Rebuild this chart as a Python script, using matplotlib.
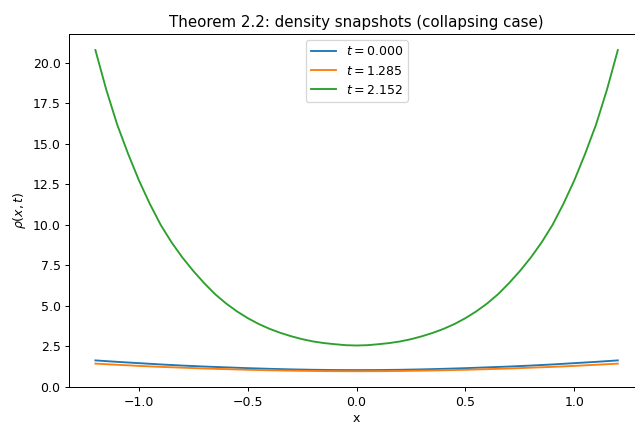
import matplotlib
matplotlib.use("Agg")
import matplotlib.pyplot as plt

# green curve (t = 2.152), sampled every 0.05
x_green = [-1.20, -1.15, -1.10, -1.05, -1.00, -0.95, -0.90, -0.85, -0.80, -0.75,
           -0.70, -0.65, -0.60, -0.55, -0.50, -0.45, -0.40, -0.35, -0.30, -0.25,
           -0.20, -0.15, -0.10, -0.05, 0.00, 0.05, 0.10, 0.15, 0.20, 0.25,
           0.30, 0.35, 0.40, 0.45, 0.50, 0.55, 0.60, 0.65, 0.70, 0.75,
           0.80, 0.85, 0.90, 0.95, 1.00, 1.05, 1.10, 1.15, 1.20]
rho_green = [20.80, 18.35, 16.20, 14.40, 12.75, 11.30, 10.00, 8.92, 7.98, 7.15,
             6.40, 5.72, 5.15, 4.66, 4.24, 3.88, 3.58, 3.33, 3.12, 2.94,
             2.80, 2.70, 2.63, 2.57, 2.55, 2.57, 2.63, 2.70, 2.80, 2.94,
             3.12, 3.33, 3.58, 3.88, 4.24, 4.66, 5.15, 5.72, 6.40, 7.15,
             7.98, 8.92, 10.00, 11.30, 12.75, 14.40, 16.20, 18.35, 20.80]

# blue (t = 0.000) and orange (t = 1.285), sampled every 0.1
x_low = [-1.2, -1.1, -1.0, -0.9, -0.8, -0.7, -0.6, -0.5, -0.4, -0.3, -0.2, -0.1, 0.0,
         0.1, 0.2, 0.3, 0.4, 0.5, 0.6, 0.7, 0.8, 0.9, 1.0, 1.1, 1.2]
rho_blue = [1.63, 1.54, 1.46, 1.38, 1.31, 1.25, 1.20, 1.15, 1.11, 1.075, 1.05, 1.035, 1.03,
            1.035, 1.05, 1.075, 1.11, 1.15, 1.20, 1.25, 1.31, 1.38, 1.46, 1.54, 1.63]
rho_orange = [1.43, 1.36, 1.29, 1.23, 1.18, 1.13, 1.09, 1.05, 1.02, 0.995, 0.975, 0.965, 0.96,
              0.965, 0.975, 0.995, 1.02, 1.05, 1.09, 1.13, 1.18, 1.23, 1.29, 1.36, 1.43]

labels = ["$t=0.000$", "$t=1.285$", "$t=2.152$"]

DPI = 90
fig = plt.figure(figsize=(635 / DPI, 423 / DPI), dpi=DPI)
ax = fig.add_axes([0.1091, 0.0844, 0.905, 0.8352])
ax.plot(x_low, rho_blue, color="#1f77b4", label=labels[0])
ax.plot(x_low, rho_orange, color="#ff7f0e", label=labels[1])
ax.plot(x_green, rho_green, color="#2ca02c", label=labels[2])
ax.set_title("Theorem 2.2: density snapshots (collapsing case)")
ax.set_xlabel("x", labelpad=2.5)
ax.set_ylabel(r"$\rho(x,t)$")
ax.legend(loc="upper center")
fig.savefig("out.png", dpi=DPI)
